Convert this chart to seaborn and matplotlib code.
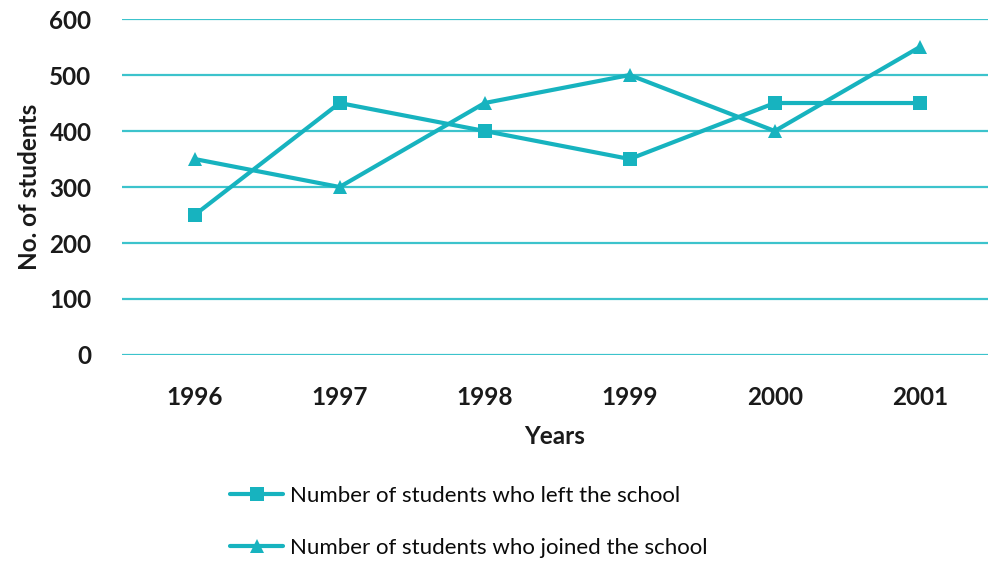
import matplotlib
matplotlib.use("Agg")
import matplotlib.pyplot as plt
import seaborn as sns
import pandas as pd

years = ["1996", "1997", "1998", "1999", "2000", "2001"]
left_school = [250, 450, 400, 350, 450, 450]
joined_school = [350, 300, 450, 500, 400, 550]
series_names = ["Number of students who left the school",
                "Number of students who joined the school"]
y_ticks = [0, 100, 200, 300, 400, 500, 600]

sns.set_theme(style="white")
plt.rcParams['font.family'] = ['Lato', 'DejaVu Sans']

df = pd.DataFrame({
    "Year": years * 2,
    "Students": left_school + joined_school,
    "Series": [series_names[0]] * len(years) + [series_names[1]] * len(years),
})

teal = "#17b3bf"
grid_c = "#3cc3cc"

fig = plt.figure(figsize=(9.88, 5.66), dpi=100)
ax = fig.add_axes([0.1235, 0.3728, 0.8765, 0.5936])

sns.lineplot(data=df, x="Year", y="Students", hue="Series", style="Series",
             markers={series_names[0]: "s", series_names[1]: "^"},
             dashes=False, palette={series_names[0]: teal, series_names[1]: teal},
             linewidth=3.0, markersize=9.5, markeredgewidth=0, ax=ax, legend=True,
             sort=False)

ax.set_ylim(0, 600)
ax.set_xlim(-0.5, 5.47)
ax.set_yticks(y_ticks)
ax.yaxis.grid(True, color=grid_c, linewidth=1.6)
ax.set_axisbelow(True)
for s in ax.spines.values():
    s.set_visible(False)
ax.tick_params(axis='both', length=0)
ax.tick_params(axis='x', pad=22)
ax.tick_params(axis='y', pad=22)
for lab in ax.get_xticklabels() + ax.get_yticklabels():
    lab.set_fontsize(17.5)
    lab.set_fontweight('bold')
    lab.set_color('#1a1a1a')

ax.set_xlabel("Years", fontsize=17.5, fontweight='bold', color='#1a1a1a', labelpad=12)
ax.set_ylabel("No. of students", fontsize=17.5, fontweight='bold', color='#1a1a1a')
ax.yaxis.set_label_coords(-0.094, 0.5)

handles, labels = ax.get_legend_handles_labels()
ax.legend(handles, labels, loc='upper left', bbox_to_anchor=(230 / 988, 1 - 486 / 566),
          bbox_transform=fig.transFigure, frameon=False, fontsize=16,
          handlelength=2.4, handletextpad=0.3, labelspacing=1.45, borderaxespad=0,
          borderpad=0)
for t in ax.get_legend().get_texts():
    t.set_color('#0a0a0a')

fig.savefig("out.png", dpi=100)
